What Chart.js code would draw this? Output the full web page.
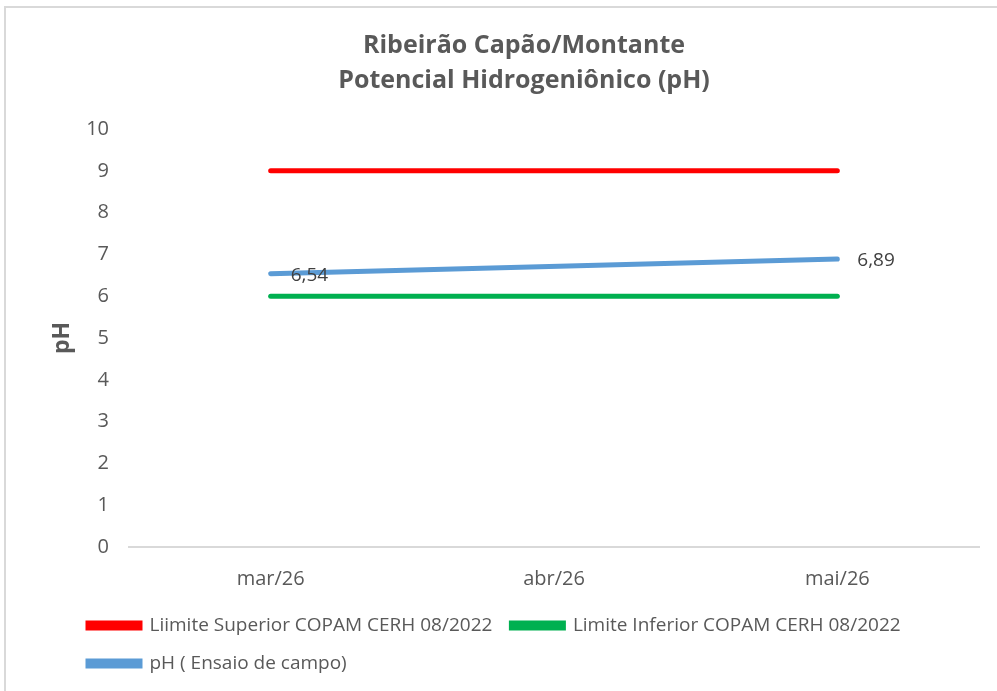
<!DOCTYPE html>
<html>
<head>
<meta charset="utf-8">
<script src="https://cdn.jsdelivr.net/npm/chart.js@4"></script>
<style>
    html, body { margin: 0; padding: 0; background: #ffffff; }
    #wrap { position: relative; width: 997px; height: 691px; }
    #frame { position: absolute; left: 4px; top: 6px; right: 0; bottom: 0; border-top: 2px solid #d9d9d9; border-left: 2px solid #d9d9d9; pointer-events: none; }
</style>
</head>
<body>
<div id="wrap">
    <canvas id="chart" width="997" height="691"></canvas>
    <div id="frame"></div>
</div>
<script>
const FONT = '"Open Sans", sans-serif';
const TEXT = '#595959';

const months = ['mar/26', 'abr/26', 'mai/26'];
const limiteSuperior = [9, 9, 9];
const limiteInferior = [6, 6, 6];
const phCampo = [6.54, null, 6.89];
const yTicks = [0, 1, 2, 3, 4, 5, 6, 7, 8, 9, 10];

// labels at the right of the pH points, like Excel's data labels
const pointLabels = {
    id: 'pointLabels',
    afterDatasetsDraw(chart) {
        const ctx = chart.ctx;
        const meta = chart.getDatasetMeta(2);
        ctx.save();
        ctx.font = '19px ' + FONT;
        ctx.fillStyle = '#404040';
        ctx.textAlign = 'left';
        ctx.textBaseline = 'middle';
        meta.data.forEach((pt, i) => {
            const v = phCampo[i];
            if (v === null) return;
            ctx.fillText(v.toFixed(2).replace('.', ','), pt.x + 20, pt.y + 2);
        });
        ctx.restore();
    }
};

const lineStyle = {
    borderWidth: 5,
    borderCapStyle: 'round',
    pointRadius: 0,
    pointHoverRadius: 0,
    fill: false,
    tension: 0
};

new Chart(document.getElementById('chart'), {
    type: 'line',
    data: {
        labels: months,
        datasets: [
            { label: 'Liimite Superior COPAM CERH 08/2022', data: limiteSuperior, borderColor: '#ff0000', backgroundColor: '#ff0000', ...lineStyle },
            { label: 'Limite Inferior COPAM CERH 08/2022', data: limiteInferior, borderColor: '#00b050', backgroundColor: '#00b050', ...lineStyle },
            { label: 'pH ( Ensaio de campo)', data: phCampo, borderColor: '#5b9bd5', backgroundColor: '#5b9bd5', spanGaps: true, ...lineStyle }
        ]
    },
    options: {
        responsive: false,
        animation: false,
        layout: { padding: { left: 69, right: 18, top: 28, bottom: 8 } },
        plugins: {
            title: {
                display: true,
                text: ['Ribeirão Capão/Montante', 'Potencial Hidrogeniônico (pH)'],
                color: TEXT,
                font: { family: FONT, size: 25, weight: 'bold', lineHeight: 1.4 },
                padding: { top: 0, bottom: 31 }
            },
            legend: {
                position: 'bottom',
                align: 'start',
                labels: {
                    color: TEXT,
                    font: { family: FONT, size: 19 },
                    boxWidth: 52,
                    boxHeight: 5,
                    padding: 19
                }
            },
            tooltip: { enabled: false }
        },
        scales: {
            x: {
                offset: true,
                grid: { display: false, drawTicks: false },
                border: { color: '#d9d9d9', width: 2 },
                ticks: { color: TEXT, font: { family: FONT, size: 20 }, padding: 20 },
                afterFit(scale) { scale.height = 50; }
            },
            y: {
                min: 0,
                max: 10,
                afterBuildTicks(scale) { scale.ticks = yTicks.map(v => ({ value: v })); },
                grid: { display: false, drawTicks: false },
                border: { display: false },
                ticks: { color: TEXT, font: { family: FONT, size: 20 }, padding: 20 },
                title: {
                    display: true,
                    text: 'pH',
                    color: TEXT,
                    font: { family: FONT, size: 23, weight: 'bold' },
                    padding: { top: -20, bottom: 0 }
                },
                afterFit(scale) { scale.width = 60; }
            }
        }
    },
    plugins: [pointLabels]
});
</script>
</body>
</html>
